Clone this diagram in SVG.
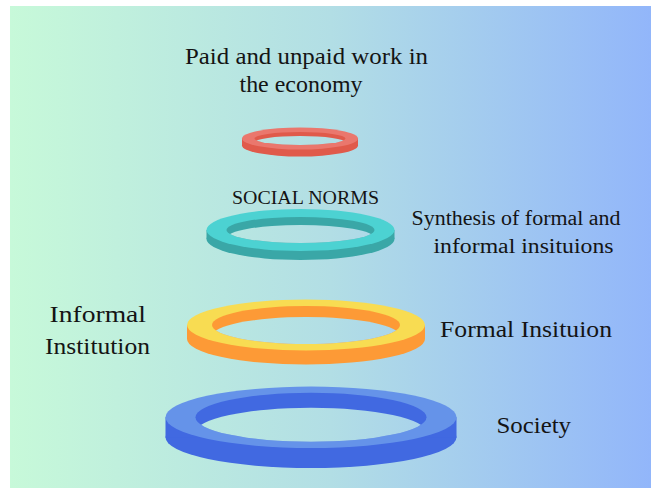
<svg xmlns="http://www.w3.org/2000/svg" width="651" height="488" viewBox="0 0 651 488">
  <defs>
    <linearGradient id="bg" gradientUnits="userSpaceOnUse" x1="10" y1="0" x2="651" y2="0">
      <stop offset="0" stop-color="#c7f9d9"/>
      <stop offset="0.5" stop-color="#b2dee5"/>
      <stop offset="1" stop-color="#92b6fa"/>
    </linearGradient>
    <!-- openings of the rings, used to show the backdrop through each hole -->
    <clipPath id="hole-paid"><ellipse cx="300" cy="138.5" rx="45.5" ry="6.5"/></clipPath>
    <clipPath id="hole-norms"><ellipse cx="300.5" cy="230" rx="74" ry="13"/></clipPath>
    <clipPath id="hole-formal"><ellipse cx="306" cy="325" rx="94" ry="19"/></clipPath>
    <clipPath id="hole-society"><ellipse cx="311" cy="417.3" rx="115.5" ry="24.5"/></clipPath>
    <style>
      .label { font-family: "Liberation Serif", "DejaVu Serif", serif; fill: #141414; }
      .red-top { fill: #ea776d; }
      .red-side { fill: #e05a4b; }
      .teal-top { fill: #4cd2d2; }
      .teal-side { fill: #3aa7a7; }
      .yellow-top { fill: #f8dc52; }
      .orange-side { fill: #fd9a36; }
      .blue-top { fill: #6593e9; }
      .blue-side { fill: #4169e1; }
      .hole { fill: url(#bg); }
    </style>
  </defs>

  <!-- backdrop -->
  <rect x="0" y="0" width="651" height="488" fill="#ffffff"/>
  <rect x="10" y="6" width="641" height="482" fill="url(#bg)"/>

  <!-- top ring: paid and unpaid work -->
  <g id="ring-paid">
    <ellipse class="red-side" cx="300" cy="145.5" rx="58" ry="11"/>
    <rect class="red-side" x="242" y="138.5" width="116" height="7"/>
    <ellipse class="red-top" cx="300" cy="138.5" rx="58" ry="11"/>
    <ellipse class="red-side" cx="300" cy="138.5" rx="45.5" ry="6.5"/>
    <ellipse class="hole" cx="300" cy="142.5" rx="45.5" ry="6.5" clip-path="url(#hole-paid)"/>
  </g>

  <!-- second ring: social norms -->
  <g id="ring-norms">
    <ellipse class="teal-side" cx="300.5" cy="239" rx="94" ry="21"/>
    <rect class="teal-side" x="206.5" y="230" width="188" height="9"/>
    <ellipse class="teal-top" cx="300.5" cy="230" rx="94" ry="21"/>
    <ellipse class="teal-side" cx="300.5" cy="230" rx="74" ry="13"/>
    <ellipse class="hole" cx="300.5" cy="238" rx="74" ry="13" clip-path="url(#hole-norms)"/>
  </g>

  <!-- third ring: formal / informal institutions -->
  <g id="ring-formal">
    <ellipse class="orange-side" cx="306" cy="339" rx="119" ry="25.5"/>
    <rect class="orange-side" x="187" y="325" width="238" height="14"/>
    <ellipse class="yellow-top" cx="306" cy="325" rx="119" ry="25.5"/>
    <ellipse class="orange-side" cx="306" cy="325" rx="94" ry="19"/>
    <ellipse class="hole" cx="306" cy="336" rx="94" ry="19" clip-path="url(#hole-formal)"/>
  </g>

  <!-- base ring: society -->
  <g id="ring-society">
    <ellipse class="blue-side" cx="311" cy="437.3" rx="145.5" ry="30.7"/>
    <rect class="blue-side" x="165.5" y="417.3" width="291" height="20"/>
    <ellipse class="blue-top" cx="311" cy="417.3" rx="145.5" ry="30.7"/>
    <ellipse class="blue-side" cx="311" cy="417.3" rx="115.5" ry="24.5"/>
    <ellipse class="hole" cx="311" cy="432.3" rx="115.5" ry="24.5" clip-path="url(#hole-society)"/>
  </g>

  <!-- labels -->
  <g id="label-paid" class="label" font-size="23.5">
    <text x="185" y="64" textLength="243" lengthAdjust="spacingAndGlyphs">Paid and unpaid work in</text>
    <text x="239.5" y="91.5" textLength="123" lengthAdjust="spacingAndGlyphs">the economy</text>
  </g>
  <g id="label-norms" class="label" font-size="19">
    <text x="232" y="204" textLength="147" lengthAdjust="spacingAndGlyphs">SOCIAL NORMS</text>
  </g>
  <g id="label-synthesis" class="label" font-size="20.5">
    <text x="411.5" y="225" textLength="209" lengthAdjust="spacingAndGlyphs">Synthesis of formal and</text>
    <text x="433.5" y="253.3" textLength="180" lengthAdjust="spacingAndGlyphs">informal insituions</text>
  </g>
  <g id="label-formal" class="label" font-size="23">
    <text x="440" y="336.7" textLength="172" lengthAdjust="spacingAndGlyphs">Formal Insituion</text>
  </g>
  <g id="label-informal" class="label" font-size="23.5">
    <text x="49.5" y="322.3" textLength="96.5" lengthAdjust="spacingAndGlyphs">Informal</text>
    <text x="45" y="354" textLength="105" lengthAdjust="spacingAndGlyphs">Institution</text>
  </g>
  <g id="label-society" class="label" font-size="24">
    <text x="496.5" y="433.3" textLength="74.5" lengthAdjust="spacingAndGlyphs">Society</text>
  </g>
</svg>
